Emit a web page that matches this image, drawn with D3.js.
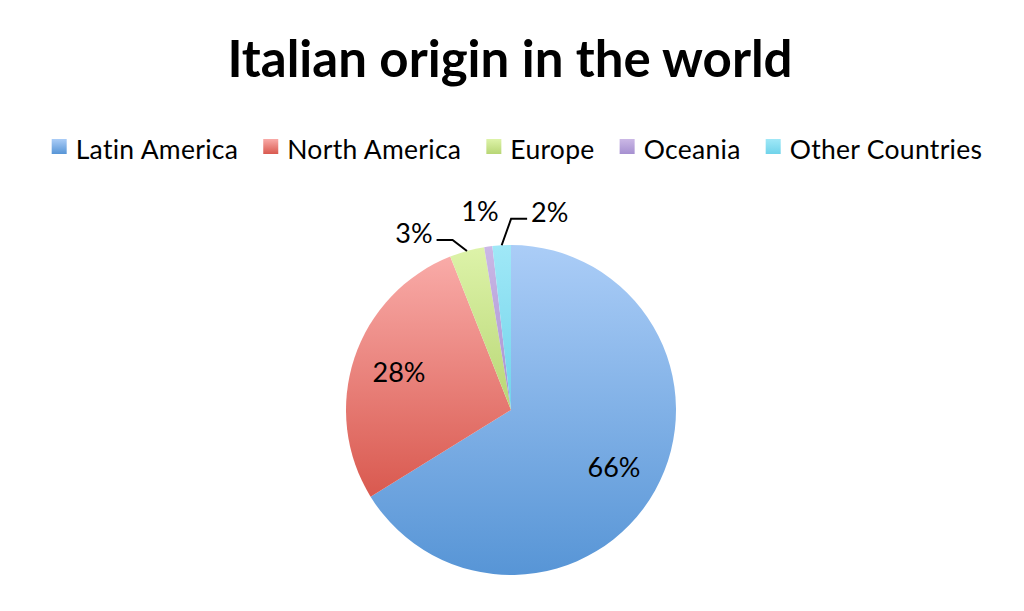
<!DOCTYPE html>
<html><head><meta charset="utf-8">
<script src="https://cdn.jsdelivr.net/npm/d3@7"></script>
<style>body{margin:0;background:#fff}svg{display:block}</style>
</head><body>
<svg id="c" width="1024" height="611"></svg>
<script>
const categories = ["Latin America","North America","Europe","Oceania","Other Countries"];
const values = [66.2, 27.8, 3.4, 0.8, 1.8];
const labels = ["66%","28%","3%","1%","2%"];
const colorsTop = ["#abcdf7","#f9aba8","#ddf3a9","#cbb8e6","#a0e8f7"];
const colorsBottom = ["#5795d6","#d9594f","#b8d675","#a690d0","#70d3ea"];

const W = 1024, H = 611;
const svg = d3.select("#c");
const font = "Lato, 'Open Sans', sans-serif";
const defs = svg.append("defs");
categories.forEach((c,i)=>{
  const g = defs.append("linearGradient").attr("id","g"+i)
    .attr("x1",0).attr("y1",0).attr("x2",0).attr("y2",1);
  g.append("stop").attr("offset","0%").attr("stop-color",colorsTop[i]);
  g.append("stop").attr("offset","100%").attr("stop-color",colorsBottom[i]);
});

// title
svg.append("text").attr("x",510).attr("y",77).attr("text-anchor","middle")
  .attr("font-family",font).attr("font-weight","bold").attr("font-size",51)
  .attr("fill","#000").text("Italian origin in the world");

// legend
const leg = svg.append("g");
let x = 0;
categories.forEach((c,i)=>{
  const it = leg.append("g").attr("transform",`translate(${x},0)`);
  it.append("rect").attr("x",0).attr("y",139).attr("width",15).attr("height",15).attr("fill",`url(#g${i})`);
  const t = it.append("text").attr("x",24).attr("y",159).attr("font-family",font)
    .attr("font-size",26.5).attr("letter-spacing",0.3).attr("fill","#000").text(c);
  x += 24 + t.node().getComputedTextLength() + 25;
});
const legW = x - 25;
leg.attr("transform",`translate(${517 - legW/2},0)`);

// pie
const cx = 511, cy = 410, R = 165;
const pie = d3.pie().sort(null).value(d=>d).startAngle(0).endAngle(2*Math.PI);
const arcs = pie(values);
const arc = d3.arc().innerRadius(0).outerRadius(R);
const labelArc = d3.arc().innerRadius(118).outerRadius(118);
const g = svg.append("g").attr("transform",`translate(${cx},${cy})`);
g.selectAll("path").data(arcs).join("path")
  .attr("d",arc).attr("fill",(d,i)=>`url(#g${i})`);

const insideMin = 0.1;
const inside = arcs.map((d,i)=>({d,i})).filter(o=>values[o.i]/d3.sum(values) >= insideMin);
const outside = arcs.map((d,i)=>({d,i})).filter(o=>values[o.i]/d3.sum(values) < insideMin);

inside.forEach(o=>{
  const [lx,ly] = labelArc.centroid(o.d);
  g.append("text").attr("x",lx).attr("y",ly).attr("dy","0.35em").attr("text-anchor","middle")
    .attr("font-family",font).attr("font-size",27).attr("fill","#000").text(labels[o.i]);
});

// spread outside labels
const mids = outside.map(o=>(o.d.startAngle+o.d.endAngle)/2);
const sep = 20*Math.PI/180;
const mean = d3.mean(mids);
const n = outside.length;
const LR = 201;
outside.forEach((o,k)=>{
  const mid = mids[k];
  const a = mean + (k-(n-1)/2)*sep;
  const lx = LR*Math.sin(a), ly = -LR*Math.cos(a);
  const t = g.append("text").attr("x",lx).attr("y",ly).attr("dy","0.35em").attr("text-anchor","middle")
    .attr("font-family",font).attr("font-size",27).attr("fill","#000").text(labels[o.i]);
  const w = t.node().getComputedTextLength();
  if (Math.abs(a-mid) > 5*Math.PI/180) {
    const px = R*Math.sin(mid), py = -R*Math.cos(mid);
    const side = lx < px ? 1 : -1;
    const sx = lx + side*(w/2 + 4);
    const hy = ly + 6;
    const ex = sx + side*16;
    g.append("path").attr("d",`M${sx},${hy}L${ex},${hy}L${px},${py}`)
      .attr("fill","none").attr("stroke","#000").attr("stroke-width",2);
  }
});
</script>
</body></html>
